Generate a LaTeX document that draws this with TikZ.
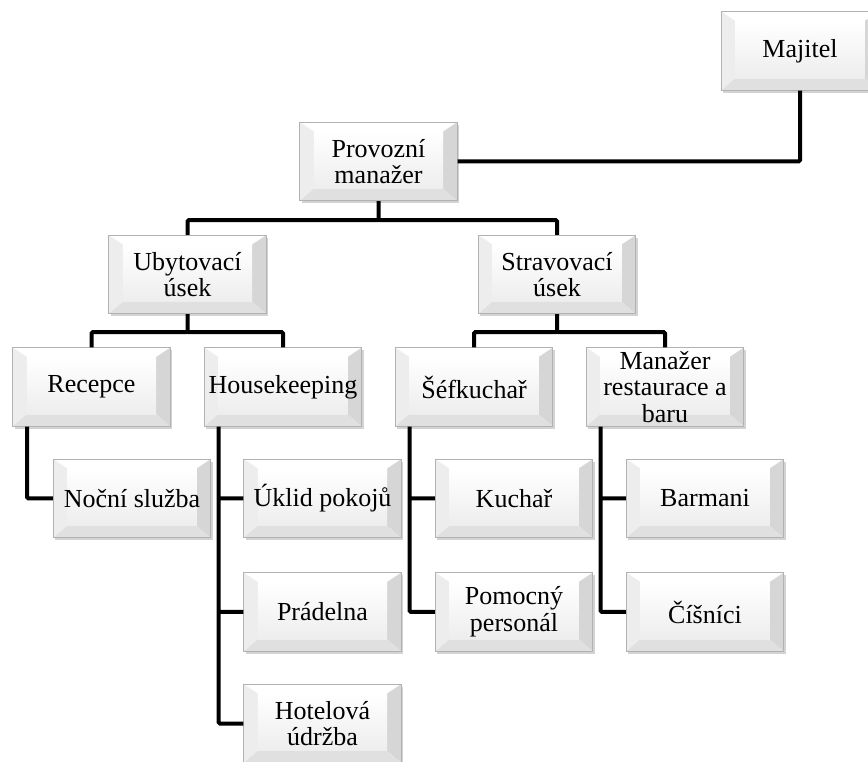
\documentclass[tikz,border=0pt]{standalone}
\usepackage{fontspec}
\setmainfont{Liberation Serif}
\usetikzlibrary{shadows}

\newcommand{\boxfont}{\fontsize{19.5}{20}\selectfont}

\tikzset{
  bevel/.style={
    path picture={
      \coordinate (bl) at (path picture bounding box.south west);
      \coordinate (tr) at (path picture bounding box.north east);
      \coordinate (tl) at (path picture bounding box.north west);
      \coordinate (br) at (path picture bounding box.south east);
      \fill[white] (tl) -- (tr) -- ([xshift=-10.5pt,yshift=-7pt]tr) -- ([xshift=10.5pt,yshift=-7pt]tl) -- cycle;
      \fill[gray!14] (tl) -- ([xshift=10.5pt,yshift=-7pt]tl) -- ([xshift=10.5pt,yshift=9pt]bl) -- (bl) -- cycle;
      \fill[gray!32] (tr) -- ([xshift=-10.5pt,yshift=-7pt]tr) -- ([xshift=-10.5pt,yshift=9pt]br) -- (br) -- cycle;
      \fill[gray!24] (bl) -- ([xshift=10.5pt,yshift=9pt]bl) -- ([xshift=-10.5pt,yshift=9pt]br) -- (br) -- cycle;
      \shade[top color=white, bottom color=gray!14] ([xshift=10.5pt,yshift=-7pt]tl) rectangle ([xshift=-10.5pt,yshift=9pt]br);
    }},
  orgbox/.style={bevel, rectangle, draw=gray!60, line width=0.6pt, fill=white,
    minimum width=118pt, minimum height=59pt, inner sep=0pt, align=center, font=\boxfont,
    drop shadow={shadow xshift=1.5pt, shadow yshift=-2pt, opacity=0.35}},
  link/.style={line width=3pt, rounded corners=1pt}
}

\begin{document}
\begin{tikzpicture}[x=0.75pt, y=-0.75pt]
  \useasboundingbox (0,0) rectangle (868,762);
  \clip (0,0) rectangle (868,762);

  % top levels
  \node[orgbox] (majitel) at (800,51) {Majitel};
  \node[orgbox] (provozni) at (378.5,161.5) {Provozní\\manažer};
  \node[orgbox] (ubyt) at (187.5,274.5) {Ubytovací\\úsek};
  \node[orgbox] (strav) at (557,274.5) {Stravovací\\úsek};

  % departments
  \node[orgbox] (recepce) at (91.5,387) {Recepce};
  \node[orgbox] (housekeeping) at (283,387) {Housekeeping};
  \node[orgbox] (sefkuchar) at (474,387) {Šéfkuchař};
  \node[orgbox] (manazer) at (665,387) {Manažer\\restaurace a\\baru};

  % staff
  \node[orgbox] (nocni) at (132,498.5) {Noční služba};
  \node[orgbox] (uklid) at (322.5,498.5) {Úklid pokojů};
  \node[orgbox] (pradelna) at (322.5,612) {Prádelna};
  \node[orgbox] (hotelova) at (322.5,723.5) {Hotelová\\údržba};
  \node[orgbox] (kuchar) at (514,498.5) {Kuchař};
  \node[orgbox] (pomocny) at (514,612) {Pomocný\\personál};
  \node[orgbox] (barmani) at (705,498.5) {Barmani};
  \node[orgbox] (cisnici) at (705,612) {Číšníci};

  \draw[link]
    (majitel) |- (provozni)
    (provozni.south) -- ++(0,19) -| (ubyt.north)
    (provozni.south) -- ++(0,19) -| (strav.north)
    (ubyt.south) -- ++(0,18) -| (recepce.north)
    (ubyt.south) -- ++(0,18) -| (housekeeping.north)
    (strav.south) -- ++(0,18) -| (sefkuchar.north)
    (strav.south) -- ++(0,18) -| (manazer.north)
    ([xshift=11pt]recepce.south west) |- (nocni.west)
    ([xshift=11pt]housekeeping.south west) |- (uklid.west)
    ([xshift=11pt]housekeeping.south west) |- (pradelna.west)
    ([xshift=11pt]housekeeping.south west) |- (hotelova.west)
    ([xshift=11pt]sefkuchar.south west) |- (kuchar.west)
    ([xshift=11pt]sefkuchar.south west) |- (pomocny.west)
    ([xshift=11pt]manazer.south west) |- (barmani.west)
    ([xshift=11pt]manazer.south west) |- (cisnici.west)
    ;
\end{tikzpicture}
\end{document}
